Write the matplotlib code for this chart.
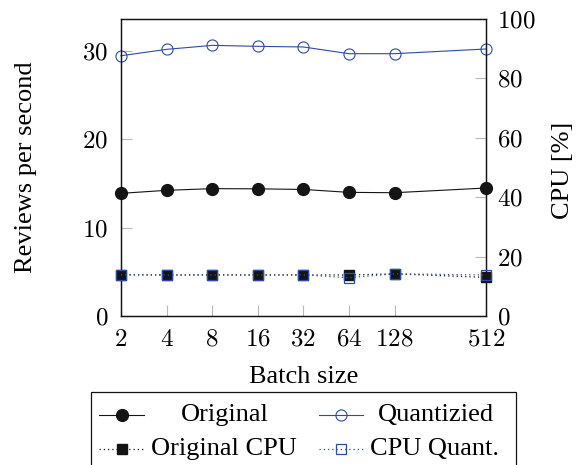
import matplotlib
matplotlib.use("Agg")
import matplotlib.pyplot as plt
from matplotlib.lines import Line2D
from matplotlib.patches import Rectangle

plt.rcParams['font.family'] = ['Liberation Serif', 'DejaVu Serif']
plt.rcParams['mathtext.fontset'] = 'cm'

batch_sizes = [2, 4, 8, 16, 32, 64, 128, 512]
x_tick_labels = ['2', '4', '8', '16', '32', '64', '128', '512']
original = [13.86, 14.2, 14.39, 14.37, 14.3, 13.97, 13.93, 14.46]
quantizied = [29.41, 30.13, 30.58, 30.47, 30.4, 29.64, 29.64, 30.17]
original_cpu = [13.9, 13.8, 13.85, 13.8, 13.85, 13.8, 14.2, 13.0]
cpu_quant = [13.9, 13.8, 13.85, 13.8, 13.85, 12.9, 14.2, 13.8]
left_ticks = [0, 10, 20, 30]
right_ticks = [0, 20, 40, 60, 80, 100]

BLUE = '#2c4ca8'
BLACK = '#141414'
TICKC = '#b8b8b8'
DOT = (0, (1, 2.4))

W, H = 586, 465
fig = plt.figure(figsize=(W / 100, H / 100), dpi=100)
ax = fig.add_axes([121 / W, 1 - 316 / H, (485.7 - 121) / W, (316 - 19) / H])
ax2 = ax.twinx()

ax.set_xscale('log', base=2)
ax.set_xlim(2, 512)
ax.set_ylim(0, 33.56)
ax2.set_ylim(0, 100)

ax.plot(batch_sizes, original, color=BLACK, lw=0.8, marker='o', ms=8.5,
        mfc=BLACK, mec=BLACK, clip_on=False, zorder=3)
ax.plot(batch_sizes, quantizied, color=BLUE, lw=0.8, marker='o', ms=8,
        mfc='none', mec=BLUE, mew=0.8, clip_on=False, zorder=3)
ax2.plot(batch_sizes, original_cpu, color=BLACK, lw=0.9, ls=DOT,
         marker='s', ms=7.5, mfc=BLACK, mec=BLACK, clip_on=False, zorder=3)
ax2.plot(batch_sizes, cpu_quant, color=BLUE, lw=0.9, ls=DOT,
         marker='s', ms=7.5, mfc='none', mec=BLUE, mew=0.9, clip_on=False, zorder=4)

ax.set_xticks(batch_sizes)
ax.set_xticklabels(['$%s$' % t for t in x_tick_labels])
ax.xaxis.set_minor_locator(matplotlib.ticker.NullLocator())
ax.set_yticks(left_ticks)
ax.set_yticklabels(['$%d$' % t for t in left_ticks])
ax2.set_yticks(right_ticks)
ax2.set_yticklabels(['$%d$' % t for t in right_ticks])

for a in (ax, ax2):
    for s in a.spines.values():
        s.set_linewidth(0.9)
        s.set_color(BLACK)
ax.tick_params(axis='x', direction='in', length=8, width=0.8, color=TICKC,
               pad=9, labelsize=18, top=False)
ax.tick_params(axis='y', direction='in', length=8, width=0.8, color=TICKC,
               pad=9, labelsize=18, right=False)
ax2.tick_params(axis='y', direction='in', length=8, width=0.8, color=TICKC,
                pad=8, labelsize=18)

ax.set_xlabel('Batch size', fontsize=19, labelpad=11)
fig.text(26 / W, 1 - 167 / H, 'Reviews per second', rotation=90, fontsize=19,
         ha='center', va='center')
fig.text(563 / W, 1 - 170 / H, 'CPU [%]', rotation=90, fontsize=19,
         ha='center', va='center')

# legend box
lx0, lx1, ly0 = 90.7, 516, 391.7
fig.patches.append(Rectangle((lx0 / W, 1 - 480 / H), (lx1 - lx0) / W, (480 - ly0) / H,
                             transform=fig.transFigure, fill=False, ec=BLACK, lw=0.9))
rows = [414.5, 449]
entries = [
    ('Original', 99, 144, 225, 0, dict(color=BLACK, lw=0.8, marker='o', ms=8.5, mfc=BLACK, mec=BLACK)),
    ('Quantizied', 319.3, 362.7, 436, 0, dict(color=BLUE, lw=0.8, marker='o', ms=8, mfc='none', mec=BLUE, mew=0.8)),
    ('Original CPU', 99, 144, 224.2, 1, dict(color=BLACK, lw=0.9, ls=DOT, marker='s', ms=7.5, mfc=BLACK, mec=BLACK)),
    ('CPU Quant.', 319.3, 362.7, 434, 1, dict(color=BLUE, lw=0.9, ls=DOT, marker='s', ms=7.5, mfc='none', mec=BLUE, mew=0.9)),
]
for label, hx0, hx1, tx, r, kw in entries:
    y = 1 - rows[r] / H
    fig.lines.append(Line2D([hx0 / W, hx1 / W], [y, y], transform=fig.transFigure, **dict(kw, marker=None)))
    fig.lines.append(Line2D([(hx0 + hx1) / 2 / W], [y], transform=fig.transFigure, ls='none',
                            **{k: v for k, v in kw.items() if k not in ('ls', 'lw')}))
    fig.text(tx / W, y, label, fontsize=19, ha='center', va='center')

fig.savefig('out.png', dpi=100)
